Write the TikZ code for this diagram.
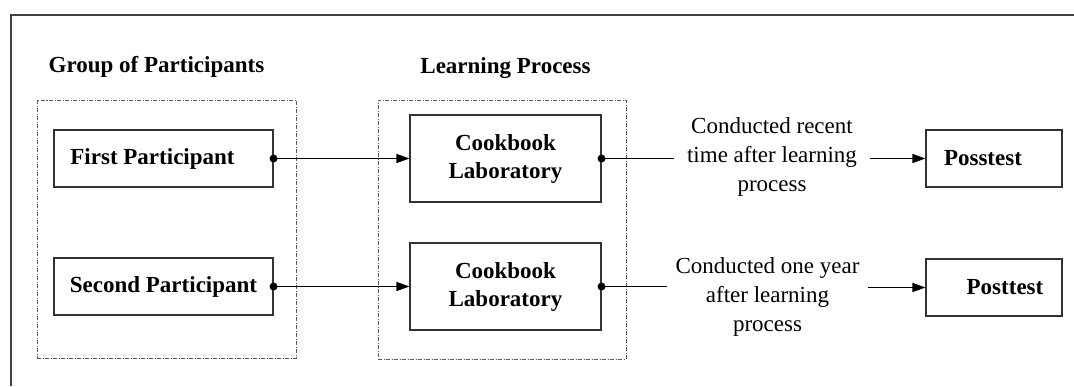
\documentclass[tikz,border=0pt]{standalone}
\usepackage{fontspec}
\setmainfont{Liberation Serif}
\usetikzlibrary{arrows.meta}
\begin{document}
\begin{tikzpicture}[x=1pt,y=-1pt,
  box/.style={draw=black!80,line width=1.1pt,rectangle,inner sep=0pt,align=center,
    font=\fontsize{23}{28}\selectfont\bfseries},
  groupbox/.style={draw=black!65,line width=0.9pt,rectangle,inner sep=0pt,
    dash pattern=on 4pt off 1.5pt on 1pt off 1.5pt},
  header/.style={anchor=base,inner sep=0pt,font=\fontsize{23}{28}\selectfont\bfseries},
  note/.style={align=center,inner ysep=0pt,font=\fontsize{23}{29}\selectfont},
  arr/.style={draw=black,line width=1.1pt,-{Triangle[length=13pt,width=9pt]}},
  conn/.style={draw=black,line width=1.1pt},
  dot/.style={fill=black}]
\useasboundingbox (0,0) rectangle (1074,386);
% outer frame (cropped)
\draw[black!75,line width=1.4pt] (1074,15) -- (11,15) -- (11,386);
% headers
\node[header] (h1) at (156.5,72) {Group of Participants};
\node[header] (h2) at (505.5,73) {Learning Process};
% group boxes
\node[groupbox,minimum width=259pt,minimum height=258pt] (g1) at (166.5,229) {};
\node[groupbox,minimum width=248pt,minimum height=259pt] (g2) at (502,229.5) {};
% participant boxes
\node[box,minimum width=219pt,minimum height=57pt] (p1) at (163.5,158.5) {\hspace*{-22pt}First Participant};
\node[box,minimum width=219pt,minimum height=57pt] (p2) at (163.5,286.5) {Second Participant};
% cookbook boxes
\node[box,minimum width=191pt,minimum height=87pt] (c1) at (505.5,158.5) {Cookbook\\Laboratory};
\node[box,minimum width=191pt,minimum height=87pt] (c2) at (505.5,286.5) {Cookbook\\Laboratory};
% notes
\node[note,inner xsep=13pt] (t1) at (772,156.5) {Conducted recent\\time after learning\\process};
\node[note,inner xsep=8pt] (t2) at (767.5,296.5) {Conducted one year\\after learning\\process};
% posttest boxes
\node[box,minimum width=136pt,minimum height=57pt] (q1) at (994,158.5) {\hspace*{-22pt}Posstest};
\node[box,minimum width=136pt,minimum height=57pt] (q2) at (994,287.5) {\hspace*{22pt}Posttest};
% connectors
\draw[arr] (p1.east) -- (c1.west);
\draw[arr] (p2.east) -- (c2.west);
\draw[conn] (c1.east) -- (c1.east -| t1.west);
\draw[conn] (c2.east) -- (c2.east -| t2.west);
\draw[arr] (t1.east |- q1.west) -- (q1.west);
\draw[arr] (t2.east |- q2.west) -- (q2.west);
% dots
\fill[dot] (p1.east) circle (4pt);
\fill[dot] (p2.east) circle (4pt);
\fill[dot] (c1.east) circle (4pt);
\fill[dot] (c2.east) circle (4pt);
\end{tikzpicture}
\end{document}
